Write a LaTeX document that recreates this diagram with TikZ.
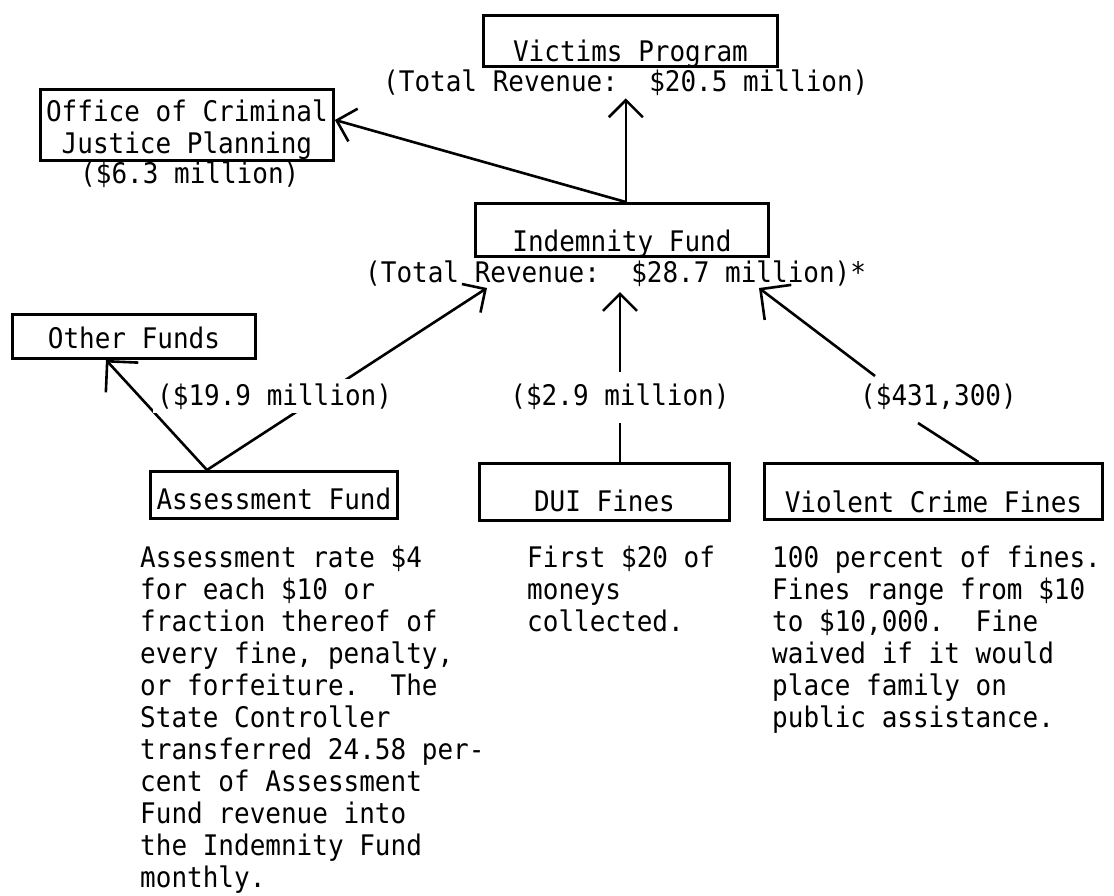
\documentclass[tikz,border=0pt]{standalone}
\usepackage{fontspec}
\newfontfamily\twfont[FakeStretch=0.917]{DejaVu Sans Mono}
\usetikzlibrary{arrows.meta}
\begin{document}
\begin{tikzpicture}[x=1pt,y=-1pt,
  every node/.style={font=\twfont\fontsize{28.35}{32}\selectfont, inner sep=0pt},
  box/.style={draw, line width=2.9pt, minimum width=#1, anchor=north west, text depth=0pt},
  conn/.style={line width=2.6pt},
  arr/.style={conn, -{Straight Barb[length=17pt,width=34pt]}},
  bigarr/.style={conn, -{Straight Barb[length=22pt,width=44pt]}},
  txt/.style={anchor=base west}]
\useasboundingbox (0,0) rectangle (1114,895);
\fill[white] (0,0) rectangle (1114,895);

% boxes
\node[box=294pt, minimum height=51pt, text height=41pt] (vic) at (482,14) {Victims Program};
\node[txt] (viclab) at (383,91) {(Total Revenue:~~\$20.5 million)};
\node[box=293pt, minimum height=71pt, text height=28pt, text depth=35pt] (ocjp) at (39,88)
  {\begin{tabular}[t]{@{}c@{}}Office of Criminal\\Justice Planning\end{tabular}};
\node[txt] (ocjplab) at (80,183) {(\$6.3 million)};
\node[box=293pt, minimum height=53pt, text height=43pt] (ind) at (474,202) {Indemnity Fund};
\node[txt] (indlab) at (365,282) {(Total Revenue:~~\$28.7 million)*};
\node[box=243pt, minimum height=44pt, text height=24pt] (oth) at (11,313) {Other Funds};
\node[box=247pt, minimum height=47pt, text height=29pt] (ass) at (149,470) {Assessment Fund};
\node[box=250pt, minimum height=57pt, text height=39pt] (dui) at (478,462) {DUI Fines};
\node[box=338pt, minimum height=56pt, text height=42pt] (vcf) at (763,462) {Violent Crime Fines};

% amount labels
\node[anchor=base] (l2) at (620,405) {(\$2.9 million)};
\node[txt] (l3) at (860,405) {(\$431,300)};

% named points
\coordinate (indtop) at (viclab.south |- ind.north);
\coordinate (asstop) at ([xshift=-67pt]ass.north);
\coordinate (t1) at (487,288);
\coordinate (t2) at (620,292);
\coordinate (t3) at (759,288);
\coordinate (vcftop) at ([xshift=45pt]vcf.north);

% connectors
\draw[arr] (indtop) -- ([yshift=-3pt]viclab.south);
\draw[arr] (indtop) -- ([yshift=5pt]ocjp.east);
\draw[bigarr] (asstop) -- ([xshift=-28pt]oth.south);
\draw[arr] (asstop) -- (t1);
\node[txt, fill=white, inner sep=4pt] (l1) at (153,405) {(\$19.9 million)};
\draw[conn] (l2.base |- dui.north) -- ([yshift=-18pt]l2.base);
\draw[arr] ([yshift=33pt]l2.base) -- (t2);
\draw[conn] (vcftop) -- ([xshift=58pt,yshift=-18pt]l3.base west);
\draw[bigarr] ([xshift=15pt,yshift=29pt]l3.base west) -- (t3);

% descriptions
\node[txt] (asstxt) at (140,567) {\begin{tabular}[t]{@{}l@{}}
Assessment rate \$4\\
for each \$10 or\\
fraction thereof of\\
every fine, penalty,\\
or forfeiture.~~The\\
State Controller\\
transferred 24.58 per-\\
cent of Assessment\\
Fund revenue into\\
the Indemnity Fund\\
monthly.\end{tabular}};
\node[txt] (duitxt) at (527,567) {\begin{tabular}[t]{@{}l@{}}
First \$20 of\\
moneys\\
collected.\end{tabular}};
\node[txt] (vcftxt) at (772,567) {\begin{tabular}[t]{@{}l@{}}
100 percent of fines.\\
Fines range from \$10\\
to \$10,000.~~Fine\\
waived if it would\\
place family on\\
public assistance.\end{tabular}};
\end{tikzpicture}
\end{document}
